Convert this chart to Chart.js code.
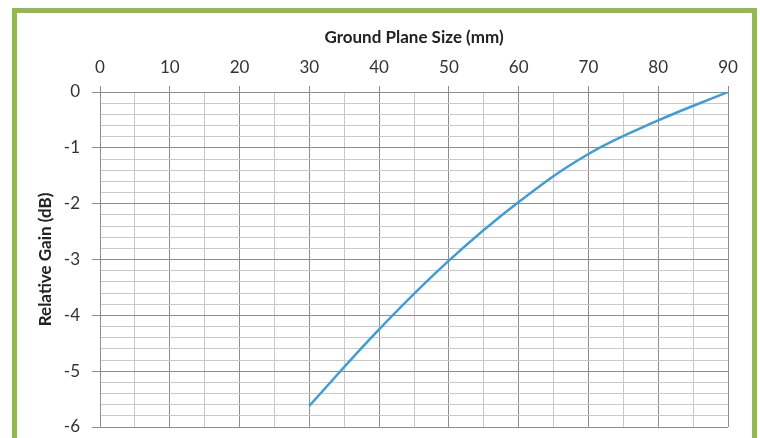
<!DOCTYPE html>
<html>
<head>
<meta charset="utf-8">
<script src="https://cdn.jsdelivr.net/npm/chart.js@4/dist/chart.umd.min.js"></script>
<style>
  body { margin: 0; background: #fff; }
  #wrap { position: relative; width: 760px; height: 438px; overflow: hidden; background: #fff; }
  #frame { position: absolute; left: 12px; top: 8px; width: 735px; height: 480px; border: 5px solid #95b84d; pointer-events: none; }
  canvas { position: absolute; left: 0; top: 0; }
</style>
</head>
<body>
<div id="wrap">
  <canvas id="gainChart" width="760" height="438"></canvas>
  <div id="frame"></div>
</div>
<script>
const sizes = [30, 40, 50, 60, 70, 80, 90];
const gain = [-5.62, -4.25, -3.02, -1.97, -1.11, -0.51, 0];
const xTitle = 'Ground Plane Size (mm)';
const yTitle = 'Relative Gain (dB)';

const FONT = 'Lato, "Open Sans", sans-serif';
const majorGrid = '#8e8e8e';
const minorGrid = '#c9c9c9';

function isMajorX(v) { return Math.abs(v % 10) < 1e-6; }
function isMajorY(v) { return Math.abs(v - Math.round(v)) < 1e-6; }

const ctx = document.getElementById('gainChart').getContext('2d');
const gainChart = new Chart(ctx, {
    type: 'line',
    data: {
        datasets: [{
            data: sizes.map((s, i) => ({ x: s, y: gain[i] })),
            borderColor: '#3d9dd8',
            borderWidth: 2.5,
            pointRadius: 0,
            fill: false,
            tension: 0.4,
        }],
    },
    options: {
        responsive: false,
        animation: false,
        layout: { padding: { left: 0, top: 0, right: 32, bottom: 11 } },
        plugins: { legend: { display: false }, tooltip: { enabled: false } },
        scales: {
            x: {
                type: 'linear',
                position: 'top',
                min: 0,
                max: 90,
                afterFit: (scale) => {
                    scale.height = 92;
                    scale.paddingLeft = 0;
                    scale.paddingRight = 0;
                },
                title: {
                    display: true,
                    text: xTitle,
                    color: '#222',
                    font: { family: FONT, size: 17, weight: 'bold' },
                    padding: { top: 27, bottom: 0 },
                },
                ticks: {
                    stepSize: 5,
                    autoSkip: false,
                    maxRotation: 0,
                    padding: 8,
                    color: '#333',
                    font: { family: FONT, size: 17 },
                    callback: (v) => isMajorX(v) ? String(v) : '',
                },
                grid: {
                    tickLength: 6,
                    color: (c) => isMajorX(c.tick.value) ? majorGrid : minorGrid,
                    tickColor: (c) => isMajorX(c.tick.value) ? majorGrid : 'rgba(0,0,0,0)',
                },
                border: { color: majorGrid },
            },
            y: {
                type: 'linear',
                min: -6,
                max: 0,
                afterFit: (scale) => {
                    scale.width = 100;
                    scale.paddingTop = 0;
                    scale.paddingBottom = 0;
                },
                title: {
                    display: true,
                    text: yTitle,
                    color: '#222',
                    font: { family: FONT, size: 17, weight: 'bold' },
                    padding: { top: 35, bottom: 0 },
                },
                ticks: {
                    stepSize: 0.2,
                    autoSkip: false,
                    padding: 12,
                    color: '#333',
                    font: { family: FONT, size: 17 },
                    callback: (v) => isMajorY(v) ? String(Math.round(v)) : '',
                },
                grid: {
                    tickLength: 8,
                    color: (c) => isMajorY(c.tick.value) ? majorGrid : minorGrid,
                    tickColor: (c) => isMajorY(c.tick.value) ? majorGrid : 'rgba(0,0,0,0)',
                },
                border: { color: majorGrid },
            },
        },
    },
});
</script>
</body>
</html>
